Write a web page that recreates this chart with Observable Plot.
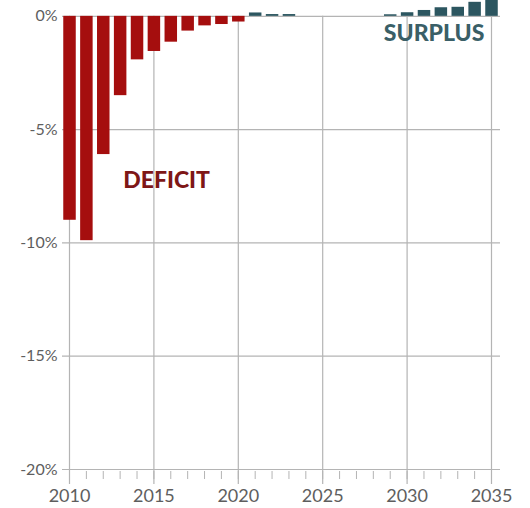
<!DOCTYPE html>
<html>
<head>
<meta charset="utf-8">
<script src="https://cdn.jsdelivr.net/npm/d3@7"></script>
<script src="https://cdn.jsdelivr.net/npm/@observablehq/plot@0.6"></script>
<style>
  html, body { margin: 0; padding: 0; background: #fff; }
  svg [aria-label="x-axis tick label"] text, svg g[aria-label="x-axis"] text { font-size: 18px; }
</style>
</head>
<body>
<div id="chart"></div>
<script>
// Data (percent of GDP)
const years  = [2010, 2011, 2012, 2013, 2014, 2015, 2016, 2017, 2018, 2019, 2020, 2021, 2022, 2023, 2024, 2025, 2026, 2027, 2028, 2029, 2030, 2031, 2032, 2033, 2034, 2035];
const values = [-9.0, -9.9, -6.1, -3.5, -1.92, -1.55, -1.14, -0.65, -0.42, -0.36, -0.25, 0.15, 0.08, 0.08, 0, 0, 0, 0, 0, 0.07, 0.16, 0.26, 0.38, 0.4, 0.62, 0.75];
const xTicks = [2010, 2015, 2020, 2025, 2030, 2035];
const yTicks = [0, -5, -10, -15, -20];
const labels = [
  {text: "DEFICIT", year: 2015.75, value: -7.25, kind: "deficit"},
  {text: "SURPLUS", year: 2031.6, value: -0.78, kind: "surplus"}
];

const data = years.map((y, i) => ({year: y, value: values[i]})).filter(d => d.value !== 0);
const colors = {deficit: "#a50e0e", surplus: "#2c5660"};
const textColors = {deficit: "#7e1717", surplus: "#3a5f67"};
const grid = "#b4b4b4";

const chart = Plot.plot({
  width: 530,
  height: 508,
  marginTop: 0,
  marginBottom: 39,
  marginLeft: 69,
  marginRight: 39,
  style: {fontFamily: "Lato, 'Open Sans', sans-serif", fontSize: "16px", color: "#5e5e5e", background: "#fff"},
  x: {domain: [2010, 2035], ticks: xTicks, tickFormat: d3.format("d"), tickSize: 0, tickPadding: 20, label: null},
  y: {domain: [-20, 0.7], ticks: yTicks, tickFormat: d => d + "%", tickSize: 0, tickPadding: 12, label: null},
  marks: [
    Plot.ruleY(yTicks, {stroke: grid, strokeWidth: 1.2, insetLeft: -7, insetRight: -9}),
    Plot.ruleX(xTicks, {y1: 0, y2: -20, stroke: grid, strokeWidth: 1.2, insetBottom: -15}),
    Plot.ruleX(years, {y1: -20, y2: -20, insetTop: 2, insetBottom: -10, stroke: grid, strokeWidth: 1}),
    Plot.rectY(data, {
      x1: d => d.year - 0.34,
      x2: d => d.year + 0.40,
      y1: 0,
      y2: "value",
      fill: d => d.value < 0 ? colors.deficit : colors.surplus
    }),
    Plot.text(labels, {
      x: "year", y: "value", text: "text",
      fill: d => textColors[d.kind],
      fontSize: 23, fontWeight: 900,
      fontFamily: "Lato, 'DejaVu Sans', sans-serif",
      letterSpacing: "0.5px"
    })
  ]
});
document.getElementById("chart").appendChild(chart);
</script>
</body>
</html>
